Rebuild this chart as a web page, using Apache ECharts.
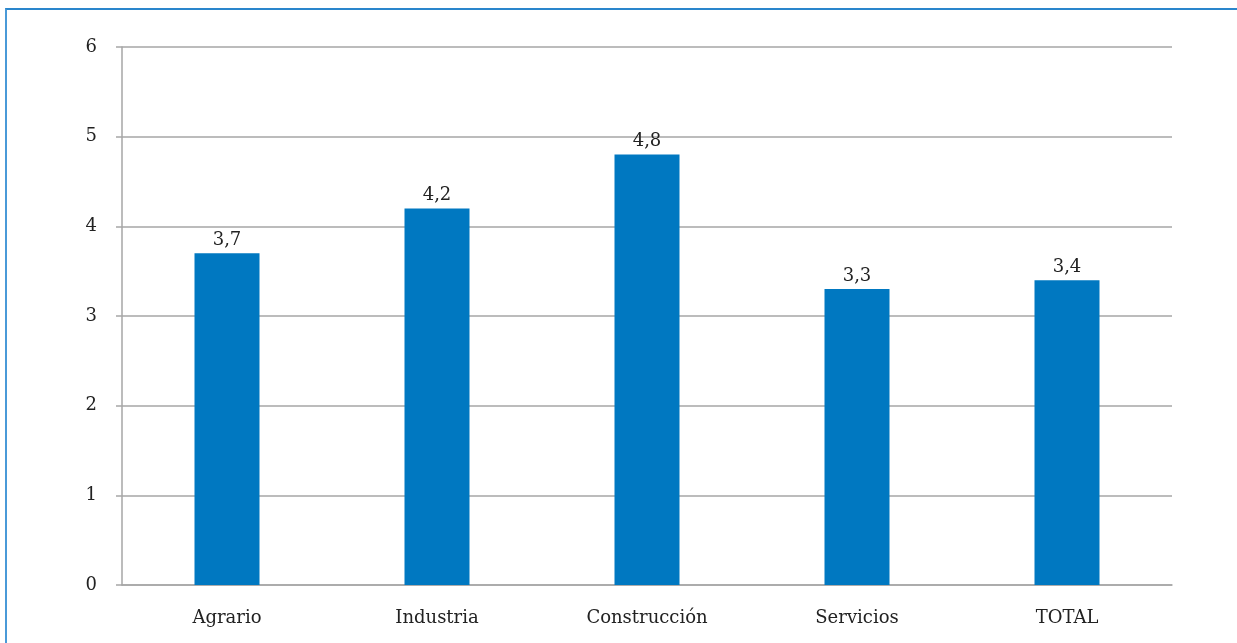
<!DOCTYPE html>
<html>
<head>
<meta charset="utf-8">
<script src="https://cdn.jsdelivr.net/npm/echarts@6/dist/echarts.min.js"></script>
<style>
  html, body { margin: 0; padding: 0; background: #ffffff; }
  #wrap { position: relative; width: 1237px; height: 643px; }
  #frame { position: absolute; left: 5px; top: 8px; width: 1232px; height: 635px;
           border-top: 2px solid #2a86cc; border-left: 2px solid #4a9ad8; box-sizing: border-box; }
  #chart { position: absolute; left: 0; top: 0; width: 1237px; height: 643px; }
</style>
</head>
<body>
<div id="wrap">
  <div id="frame"></div>
  <div id="chart"></div>
</div>
<script>
const categories = ['Agrario', 'Industria', 'Construcción', 'Servicios', 'TOTAL'];
const values = [3.7, 4.2, 4.8, 3.3, 3.4];
const yTicks = [0, 1, 2, 3, 4, 5, 6];

const fontFamily = '"DejaVu Serif", "Liberation Serif", serif';
const chart = echarts.init(document.getElementById('chart'), null, { renderer: 'canvas' });
chart.setOption({
  backgroundColor: 'transparent',
  animation: false,
  grid: { left: 122, right: 65, top: 47, bottom: 58, containLabel: false },
  xAxis: {
    type: 'category',
    data: categories,
    axisLine: { show: true, lineStyle: { color: '#a6a6a6', width: 1.5 } },
    axisTick: { show: false },
    axisLabel: { color: '#222', fontFamily: fontFamily, fontSize: 18, margin: 24 }
  },
  yAxis: {
    type: 'value',
    min: yTicks[0],
    max: yTicks[yTicks.length - 1],
    interval: 1,
    axisLine: { show: true, lineStyle: { color: '#a6a6a6', width: 1.5 } },
    axisTick: { show: true, length: 6, lineStyle: { color: '#a6a6a6', width: 1.5 } },
    splitLine: { show: true, lineStyle: { color: '#a6a6a6', width: 1.5 } },
    axisLabel: { color: '#222', fontFamily: fontFamily, fontSize: 18, margin: 25 }
  },
  series: [{
    type: 'bar',
    data: values,
    barWidth: 65,
    itemStyle: { color: '#0078c1' },
    label: {
      show: true,
      position: 'top',
      distance: 4,
      color: '#222',
      fontFamily: fontFamily,
      fontSize: 18,
      formatter: p => String(p.value).replace('.', ',')
    }
  }]
});
</script>
</body>
</html>
